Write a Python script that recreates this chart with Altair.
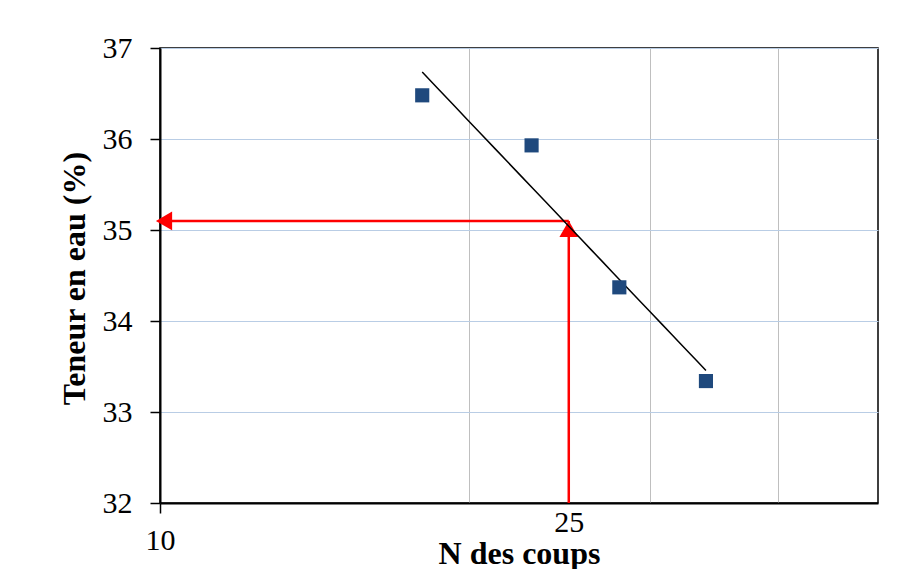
import altair as alt
import pandas as pd

# Data
n_coups = [18, 23, 28, 34]
teneur = [36.48, 35.93, 34.37, 33.34]
n_cible = 25
w_lu = 35.1
x_min, x_max = 10, 50
y_min, y_max = 32, 37
x_ticks = [10, 20, 25, 30, 40, 50]
x_shown = [10, 25]
y_ticks = [32, 33, 34, 35, 36, 37]

pts = pd.DataFrame({"N": n_coups, "w": teneur})
h_arrow = pd.DataFrame({"x1": [x_min], "x2": [n_cible], "y": [w_lu]})
v_arrow = pd.DataFrame({"x": [n_cible], "y1": [y_min], "y2": [w_lu]})

FONT = "Liberation Serif"

xscale = alt.Scale(type="log", domain=[x_min, x_max], nice=False)
yscale = alt.Scale(domain=[y_min, y_max], zero=False, nice=False)

shown_test = " || ".join(f"datum.value == {v}" for v in x_shown)

xaxis = alt.Axis(
    values=x_ticks,
    format="d",
    labelExpr=f"({shown_test}) ? datum.label : ''",
    labelFlush=False,
    labelOverlap=False,
    labelBound=False,
    labelFont=FONT,
    labelFontSize=30,
    labelColor="black",
    labelPadding={"condition": {"test": "datum.value == 10", "value": 12}, "value": -6},
    tickSize=10,
    tickColor="black",
    tickWidth=1.5,
    tickOpacity={"condition": {"test": "datum.value == 10", "value": 1}, "value": 0},
    grid=True,
    gridColor="#BFBFBF",
    gridWidth=1,
    gridOpacity={"condition": {"test": "datum.value == 25 || datum.value == 10 || datum.value == 50", "value": 0}, "value": 1},
    domainColor="black",
    domainWidth=2,
    title="N des coups",
    titleFont=FONT,
    titleFontSize=32,
    titleFontWeight="bold",
    titleColor="black",
    titleX=359,
    titleY=60,
    titleBaseline="alphabetic",
)

yaxis = alt.Axis(
    values=y_ticks,
    format="d",
    labelFont=FONT,
    labelFontSize=30,
    labelColor="black",
    labelPadding=18,
    tickSize=10,
    tickColor="black",
    tickWidth=1.5,
    grid=True,
    gridColor="#B9CDE5",
    gridWidth=1,
    domainColor="black",
    domainWidth=2,
    title="Teneur en eau (%)",
    titleFont=FONT,
    titleFontSize=32,
    titleFontWeight="bold",
    titleColor="black",
    titleAngle=270,
    titleX=-76,
    titleY=230,
    titleAlign="center",
    titleBaseline="alphabetic",
)

base = alt.Chart(pts)

points = base.mark_square(size=200, color="#1F497D", opacity=1).encode(
    x=alt.X("N:Q", scale=xscale, axis=xaxis),
    y=alt.Y("w:Q", scale=yscale, axis=yaxis),
)

trend = base.transform_regression("N", "w", method="log").mark_line(
    color="black", strokeWidth=1.5
).encode(
    x=alt.X("N:Q", scale=xscale),
    y=alt.Y("w:Q", scale=yscale),
)

h_line = alt.Chart(h_arrow).mark_rule(color="#FF0000", strokeWidth=2.5).encode(
    x=alt.X("x1:Q", scale=xscale),
    x2="x2:Q",
    y=alt.Y("y:Q", scale=yscale),
)
h_head = alt.Chart(h_arrow).mark_point(
    shape="triangle-left", filled=True, size=350, color="#FF0000", opacity=1, xOffset=4
).encode(
    x=alt.X("x1:Q", scale=xscale),
    y=alt.Y("y:Q", scale=yscale),
)

v_line = alt.Chart(v_arrow).mark_rule(color="#FF0000", strokeWidth=2.5).encode(
    x=alt.X("x:Q", scale=xscale),
    y=alt.Y("y1:Q", scale=yscale),
    y2="y2:Q",
)
v_head = alt.Chart(v_arrow).mark_point(
    shape="triangle-up", filled=True, size=350, color="#FF0000", opacity=1, yOffset=8
).encode(
    x=alt.X("x:Q", scale=xscale),
    y=alt.Y("y2:Q", scale=yscale),
)

chart = alt.layer(h_line, v_line, h_head, v_head, trend, points).properties(
    width=718,
    height=455,
    padding={"left": 152, "top": 40, "right": 22, "bottom": 66},
    autosize="none",
    background="white",
).configure_view(
    stroke="black", strokeWidth=1.5
)

chart.save("out.html", embed_options={"renderer": "svg", "actions": False})
